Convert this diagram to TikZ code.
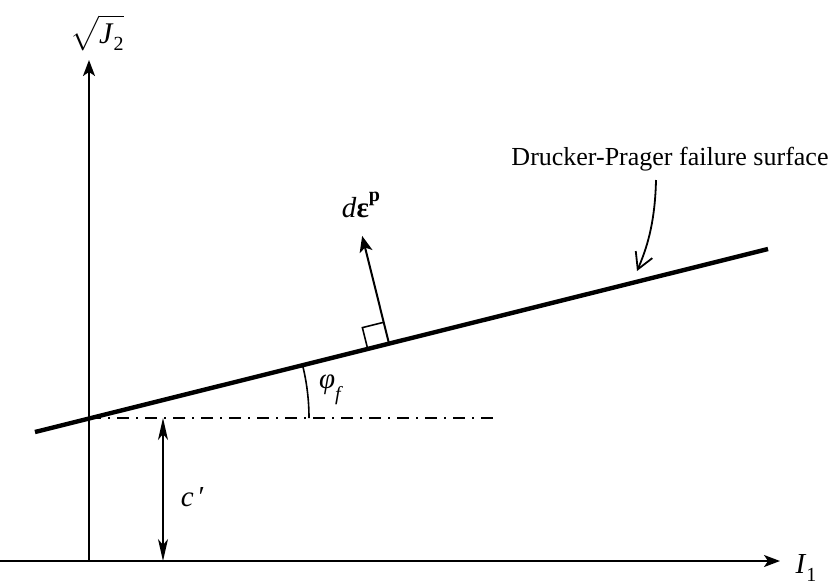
\documentclass[tikz,border=0pt]{standalone}
\usepackage{amsmath}
\usepackage{fontspec}
\setmainfont{Liberation Serif}
\usepackage{tikz}
\usetikzlibrary{arrows.meta,calc,angles}
\definecolor{Ink}{HTML}{000000}
\newcommand{\lowsub}[1]{\raisebox{-0.55ex}{\fontsize{10}{12}\selectfont #1}}
\tikzset{
  axis/.style={draw=Ink,line width=1pt,-{Stealth[length=8pt,width=6pt,inset=2pt]}},
  failure/.style={draw=Ink,line width=2.2pt},
  refline/.style={draw=Ink,line width=0.8pt,dash pattern=on 6pt off 3.5pt on 1pt off 3.5pt},
  dimline/.style={draw=Ink,line width=0.8pt,{Stealth[length=11pt,width=5pt,inset=3pt]}-{Stealth[length=11pt,width=5pt,inset=3pt]}},
  normal/.style={draw=Ink,line width=1pt,-{Stealth[length=8pt,width=6.5pt,inset=2pt]}},
  pointer/.style={draw=Ink,line width=0.9pt,-{Straight Barb[length=8pt,width=9pt]}},
  lbl/.style={font=\fontsize{13}{15}\selectfont,inner sep=0pt,text=Ink},
  mlbl/.style={font=\fontsize{14.5}{17}\selectfont,inner sep=0pt,text=Ink}
}
\begin{document}
\begin{tikzpicture}[x=0.5pt,y=-0.5pt]
  \useasboundingbox (0,0) rectangle (838,585);
  \coordinate (O) at (89,561);
  \coordinate (xs) at (0,561);
  \coordinate (xe) at (780,561);
  \coordinate (ye) at (89,60);
  \coordinate (f1) at (35,432);
  \coordinate (f2) at (768,249);
  \coordinate (A) at (89,418);
  \coordinate (dd) at (497,418);
  \coordinate (c1) at (163,418);
  \coordinate (c2) at (163,561);
  \coordinate (n0) at ($(f1)!0.483!(f2)$);
  \coordinate (n1) at ($(n0)!55.5pt!90:(f2)$);
  \coordinate (q1) at ($(n0)!11pt!(f1)$);
  \coordinate (q3) at ($(n0)!11pt!(n1)$);
  \coordinate (ps) at (656,180);
  \coordinate (pt) at (637,271);
  \draw[axis] (xs) -- (xe);
  \draw[axis] (O) -- (ye);
  \draw[refline] (A) -- (dd);
  \draw[failure] (f1) -- (f2);
  \draw[dimline] (c1) -- (c2);
  \pic[draw=Ink,line width=0.8pt,angle radius=110pt] {angle = dd--A--f2};
  \draw[normal] (n0) -- (n1);
  \draw[draw=Ink,line width=0.8pt] (q1) -- ($(q1)+(q3)-(n0)$) -- (q3);
  \draw[pointer] (ps) .. controls (655,225) and (646,250) .. (pt);
  \node[mlbl] (sqj) at (97,33) {$\sqrt{\mbox{\fontsize{15}{17}\selectfont\textit{J}\lowsub{2}}\vphantom{\rule{0pt}{12pt}}}$};
  \node[mlbl] (ione) at (806,568) {\textit{I}\lowsub{1}};
  \node[mlbl] (cp) at (193,497) {\textit{c}\,′};
  \node[mlbl] (phi) at (331,390) {\textit{φ}\raisebox{-0.9ex}{\fontsize{10}{12}\selectfont\textit{f}}};
  \node[mlbl] (de) at (361,205) {\textit{d}\textbf{ε}\raisebox{1.2ex}{\fontsize{10}{12}\selectfont\textbf{p}}};
  \node[lbl] (dp) at (670,159) {Drucker-Prager failure surface};
\end{tikzpicture}
\end{document}
